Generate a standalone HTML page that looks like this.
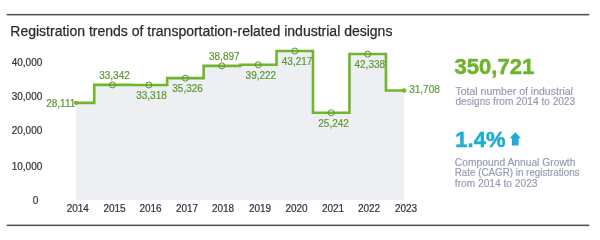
<!DOCTYPE html>
<html><head><meta charset="utf-8"><style>
html,body{margin:0;padding:0;background:#fff;width:600px;height:230px;overflow:hidden}
svg{display:block;will-change:transform;filter:blur(0.3px);font-family:"Liberation Sans",sans-serif}
</style></head><body>
<svg width="600" height="230" viewBox="0 0 600 230">
<rect x="0" y="0" width="600" height="230" fill="#fff"/>
<rect x="6.7" y="13.9" width="582.5" height="1.5" fill="#4a4a54"/>
<rect x="6.8" y="224.6" width="582.5" height="1.5" fill="#4a4a54"/>
<text x="10.3" y="35.8" font-size="14" fill="#2b2b2b" stroke="#2b2b2b" stroke-width="0.25">Registration trends of transportation-related industrial designs</text>
<path d="M76.00,102.87 H94.23 V84.92 H130.69 V85.00 H167.16 V78.11 H203.62 V65.86 H240.08 V64.74 H276.54 V51.03 H313.00 V112.72 H349.47 V54.05 H385.93 V90.53 H404.16 V200 H76.00 Z" fill="#eeeff3"/>
<path d="M76.00,102.87 H94.23 V84.92 H130.69 V85.00 H167.16 V78.11 H203.62 V65.86 H240.08 V64.74 H276.54 V51.03 H313.00 V112.72 H349.47 V54.05 H385.93 V90.53 H404.16" fill="none" stroke="#70b52c" stroke-width="2.6" stroke-linejoin="miter"/>
<circle cx="76.00" cy="102.87" r="2.2" fill="#70b52c"/><circle cx="112.46" cy="84.92" r="3" fill="none" stroke="#5a962e" stroke-width="1"/><circle cx="148.92" cy="85.00" r="3" fill="none" stroke="#5a962e" stroke-width="1"/><circle cx="185.39" cy="78.11" r="3" fill="none" stroke="#5a962e" stroke-width="1"/><circle cx="221.85" cy="65.86" r="3" fill="none" stroke="#5a962e" stroke-width="1"/><circle cx="258.31" cy="64.74" r="3" fill="none" stroke="#5a962e" stroke-width="1"/><circle cx="294.77" cy="51.03" r="3" fill="none" stroke="#5a962e" stroke-width="1"/><circle cx="331.23" cy="112.72" r="3" fill="none" stroke="#5a962e" stroke-width="1"/><circle cx="367.70" cy="54.05" r="3" fill="none" stroke="#5a962e" stroke-width="1"/><circle cx="404.16" cy="90.53" r="2.2" fill="#70b52c"/>
<g font-size="10" fill="#5c9836" stroke="#5c9836" stroke-width="0.2"><text x="75.3" y="107.0" text-anchor="end">28,111</text><text x="114.5" y="79.1" text-anchor="middle">33,342</text><text x="151.5" y="98.5" text-anchor="middle">33,318</text><text x="187.6" y="92.2" text-anchor="middle">35,326</text><text x="224.3" y="59.7" text-anchor="middle">38,897</text><text x="260.9" y="78.5" text-anchor="middle">39,222</text><text x="297.1" y="64.6" text-anchor="middle">43,217</text><text x="333.6" y="127.2" text-anchor="middle">25,242</text><text x="369.8" y="68.2" text-anchor="middle">42,338</text><text x="409.2" y="92.6" text-anchor="start">31,708</text></g>
<g font-size="10" fill="#333" stroke="#333" stroke-width="0.2"><text x="77.8" y="212.1" text-anchor="middle">2014</text><text x="114.5" y="212.1" text-anchor="middle">2015</text><text x="150.5" y="212.1" text-anchor="middle">2016</text><text x="187" y="212.1" text-anchor="middle">2017</text><text x="223" y="212.1" text-anchor="middle">2018</text><text x="260" y="212.1" text-anchor="middle">2019</text><text x="296.5" y="212.1" text-anchor="middle">2020</text><text x="333" y="212.1" text-anchor="middle">2021</text><text x="369" y="212.1" text-anchor="middle">2022</text><text x="406" y="212.1" text-anchor="middle">2023</text><text x="42.3" y="66.1" text-anchor="end">40,000</text><text x="42.3" y="99.8" text-anchor="end">30,000</text><text x="42.3" y="134.1" text-anchor="end">20,000</text><text x="42.3" y="169.5" text-anchor="end">10,000</text><text x="35.6" y="203.9" text-anchor="middle">0</text></g>
<text x="454.6" y="74.3" font-size="22" font-weight="bold" fill="#6cb42c" stroke="#6cb42c" stroke-width="0.5">350,721</text>
<g font-size="10.2" fill="#9499b2" stroke="#9499b2" stroke-width="0.15">
<text x="455.5" y="94.9" textLength="117.4" lengthAdjust="spacingAndGlyphs">Total number of industrial</text>
<text x="455.5" y="105.4" textLength="119.6" lengthAdjust="spacingAndGlyphs">designs from 2014 to 2023</text>
<text x="454.8" y="165.9" textLength="120.6" lengthAdjust="spacingAndGlyphs">Compound Annual Growth</text>
<text x="454.8" y="176.4" textLength="124.7" lengthAdjust="spacingAndGlyphs">Rate (CAGR) in registrations</text>
<text x="454.8" y="187.0">from 2014 to 2023</text>
</g>
<text x="455.3" y="146.7" font-size="22" font-weight="bold" fill="#20acd4" stroke="#20acd4" stroke-width="0.5">1.4%</text>
<path d="M515.3,132.3 L521,138.2 L518.6,138.2 L518.6,145.5 L511.9,145.5 L511.9,138.2 L509.5,138.2 Z" fill="#20acd4"/>
</svg>
</body></html>
